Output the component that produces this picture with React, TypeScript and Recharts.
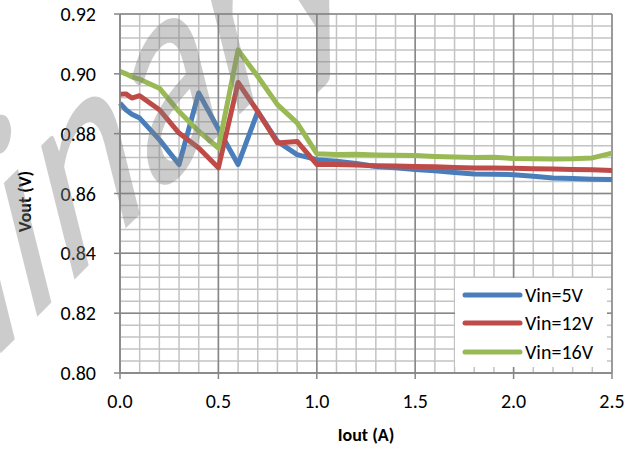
import { LineChart, Line, XAxis, YAxis, CartesianGrid, Legend, Label } from 'recharts';

// load current (A)
const iout = [0, 0.03, 0.06, 0.1, 0.2, 0.3, 0.4, 0.5, 0.6, 0.7, 0.8, 0.9, 1.0, 1.1, 1.2, 1.3, 1.4, 1.5, 1.6, 1.7, 1.8, 1.9, 2.0, 2.1, 2.2, 2.3, 2.4, 2.5];

// output voltage (V) per input voltage
const vin5 = [0.8902, 0.8880, 0.8865, 0.8852, 0.8780, 0.8697, 0.8936, 0.8815, 0.8697, 0.8874, 0.8774, 0.8730, 0.8713, 0.8708, 0.8700, 0.8690, 0.8686, 0.8680, 0.8676, 0.8670, 0.8665, 0.8664, 0.8663, 0.8658, 0.8652, 0.8650, 0.8648, 0.8647];
const vin12 = [0.8932, 0.8933, 0.8919, 0.8927, 0.8880, 0.8802, 0.8752, 0.8686, 0.8971, 0.8874, 0.8769, 0.8774, 0.8697, 0.8697, 0.8695, 0.8693, 0.8692, 0.8690, 0.8689, 0.8687, 0.8685, 0.8685, 0.8684, 0.8683, 0.8682, 0.8680, 0.8679, 0.8677];
const vin16 = [0.9008, 0.9000, 0.8990, 0.8982, 0.8952, 0.8874, 0.8808, 0.8752, 0.9080, 0.8991, 0.8897, 0.8836, 0.8733, 0.8730, 0.8731, 0.8729, 0.8728, 0.8727, 0.8724, 0.8722, 0.8720, 0.8721, 0.8717, 0.8716, 0.8715, 0.8716, 0.8719, 0.8735];

const seriesNames = ['Vin=5V', 'Vin=12V', 'Vin=16V'];
const xTicks = [0, 0.5, 1.0, 1.5, 2.0, 2.5];
const yTicks = [0.8, 0.82, 0.84, 0.86, 0.88, 0.9, 0.92];
const xMinor = Array.from({ length: 26 }, (_, i) => i / 10);
const yMinor = Array.from({ length: 31 }, (_, i) => 0.8 + i * 0.004);

const data = iout.map((x, i) => ({ iout: x, v5: vin5[i], v12: vin12[i], v16: vin16[i] }));

const FONT = 'Carlito, Lato, sans-serif';
const MAJOR = '#878787';
const MINOR = '#c3c3c3';

const renderLegend = ({ payload }: any) => {
  const items = [...(payload || [])].sort((a: any, b: any) => seriesNames.indexOf(a.value) - seriesNames.indexOf(b.value));
  return (
    <div style={{ background: '#fff', width: 152, height: 89, paddingTop: 3, boxSizing: 'border-box' }}>
      {items.map((p: any) => (
        <div key={p.value} style={{ display: 'flex', alignItems: 'center', height: 28.3 }}>
          <svg width={70} height={10} style={{ flex: 'none' }}>
            <line x1={10} y1={5} x2={65} y2={5} stroke={p.color} strokeWidth={5} strokeLinecap="round" />
          </svg>
          <span style={{ fontFamily: FONT, fontSize: 20, color: '#000' }}>{p.value}</span>
        </div>
      ))}
    </div>
  );
};

// slanted, stretched "Preliminary" watermark laid over the chart
const Watermark = () => (
  <svg width={635} height={450} style={{ position: 'absolute', left: 0, top: 0, pointerEvents: 'none' }}>
    <text
      x={0}
      y={0}
      textAnchor="end"
      transform="matrix(1.65 -1.65 0.7 2.8 362 -8)"
      fontFamily={FONT}
      fontSize={100}
      fill="#808080"
      fillOpacity={0.4}
    >
      Preliminary
    </text>
  </svg>
);

export default function App() {
  return (
    <div style={{ position: 'absolute', left: 0, top: 0, width: 635, height: 450, background: '#fff' }}>
      <LineChart width={635} height={450} data={data} margin={{ top: 14, right: 23, left: 0, bottom: 0 }}>
        <CartesianGrid stroke={MINOR} strokeWidth={1.5} horizontalValues={yMinor} verticalValues={xMinor} />
        <CartesianGrid stroke={MAJOR} strokeWidth={1.5} />
        <XAxis
          dataKey="iout"
          type="number"
          domain={[0, 2.5]}
          ticks={xTicks}
          interval={0}
          height={77}
          tickSize={6}
          tickMargin={15}
          tickFormatter={(v: number) => v.toFixed(1)}
          axisLine={{ stroke: MAJOR, strokeWidth: 1.5 }}
          tickLine={{ stroke: MAJOR, strokeWidth: 1.5 }}
          tick={{ fill: '#000', fontFamily: FONT, fontSize: 20 }}
        >
          <Label
            content={({ viewBox }: any) => (
              <text x={viewBox.x + viewBox.width / 2} y={viewBox.y + 68} textAnchor="middle" fontFamily={FONT} fontSize={18} fontWeight="bold" fill="#000">
                Iout (A)
              </text>
            )}
          />
        </XAxis>
        <YAxis
          type="number"
          domain={[0.8, 0.92]}
          ticks={yTicks}
          interval={0}
          width={120}
          tickSize={6}
          tickMargin={18}
          tickFormatter={(v: number) => v.toFixed(2)}
          axisLine={{ stroke: MAJOR, strokeWidth: 1.5 }}
          tickLine={{ stroke: MAJOR, strokeWidth: 1.5 }}
          tick={{ fill: '#000', fontFamily: FONT, fontSize: 20 }}
        >
          <Label
            content={({ viewBox }: any) => {
              const cx = viewBox.x + 31;
              const cy = viewBox.y + viewBox.height / 2 + 8;
              return (
                <text x={cx} y={cy} textAnchor="middle" transform={`rotate(-90 ${cx} ${cy})`} fontFamily={FONT} fontSize={18} fontWeight="bold" fill="#000">
                  Vout (V)
                </text>
              );
            }}
          />
        </YAxis>
        <Legend
          layout="vertical"
          align="center"
          verticalAlign="middle"
          content={renderLegend}
          wrapperStyle={{ position: 'absolute', left: 455, top: 278, width: 152, height: 89 }}
        />
        <Line type="linear" dataKey="v5" name="Vin=5V" stroke="#4a7ebb" strokeWidth={5} strokeLinejoin="round" dot={false} isAnimationActive={false} />
        <Line type="linear" dataKey="v12" name="Vin=12V" stroke="#be4b48" strokeWidth={5} strokeLinejoin="round" dot={false} isAnimationActive={false} />
        <Line type="linear" dataKey="v16" name="Vin=16V" stroke="#98b954" strokeWidth={5} strokeLinejoin="round" dot={false} isAnimationActive={false} />
      </LineChart>
      <Watermark />
    </div>
  );
}
